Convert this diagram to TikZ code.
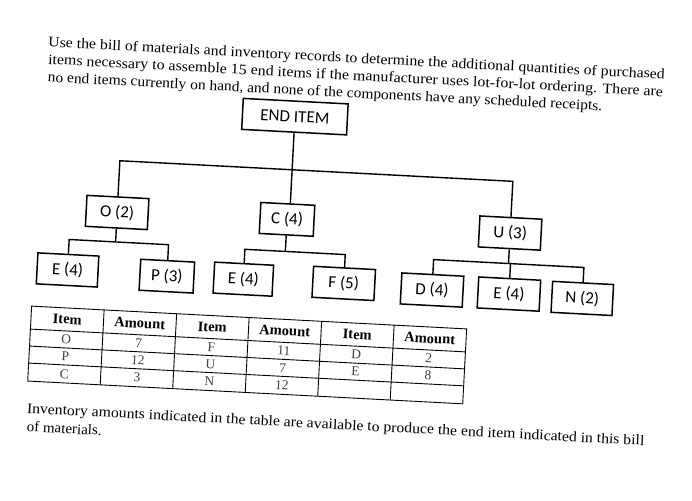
\documentclass[tikz,border=0pt]{standalone}
\usepackage{fontspec}
\setmainfont{Liberation Serif}
\newfontfamily\boxfont{Carlito}
\begin{document}
\begin{tikzpicture}[x=1pt,y=-1pt,
  bom/.style={draw=black, line width=1.5pt, minimum height=31pt, inner sep=0pt,
    font=\boxfont\fontsize{17}{17}\selectfont, transform shape},
  link/.style={line width=1.4pt},
  gridline/.style={line width=0.9pt},
  para/.style={anchor=base west, inner sep=0pt, transform shape,
    font=\fontsize{14.5}{14.5}\selectfont},
  hd/.style={font=\bfseries\fontsize{14.5}{14.5}\selectfont, inner sep=0pt, transform shape},
  cell/.style={font=\fontsize{13.5}{13.5}\selectfont, text=black!75, inner sep=0pt, transform shape}]
\useasboundingbox (0,0) rectangle (692,500);
\begin{scope}[rotate around={-3:(346,250)}]
  % paragraph
  \node[para] (l1) at (37.8,62.6) {\resizebox{617pt}{\height}{Use the bill of materials and inventory records to determine the additional quantities of purchased}};
  \node[para] (l2) at (38.5,80) {\resizebox{615.5pt}{\height}{items necessary to assemble 15 end items if the manufacturer uses lot-for-lot ordering. There are}};
  \node[para] (l3) at (39,97.5) {\resizebox{555pt}{\height}{no end items currently on hand, and none of the components have any scheduled receipts.}};
  % tree nodes
  \node[bom, minimum width=105pt] (end) at (288,119.5) {END ITEM};
  \node[bom, minimum width=62pt] (o) at (115.5,224.5) {O (2)};
  \node[bom, minimum width=54pt] (c) at (285.5,222.5) {C (4)};
  \node[bom, minimum width=62pt] (u) at (509,224.5) {U (3)};
  \node[bom, minimum width=61pt] (e1) at (69,284.5) {E (4)};
  \node[bom, minimum width=54pt] (p) at (168.5,285.5) {P (3)};
  \node[bom, minimum width=59pt] (e2) at (245,284.5) {E (4)};
  \node[bom, minimum width=62pt] (f) at (345.5,283.5) {F (5)};
  \node[bom, minimum width=62pt] (d) at (434,285.5) {D (4)};
  \node[bom, minimum width=62pt] (e3) at (511,285.5) {E (4)};
  \node[bom, minimum width=61pt] (n) at (584.5,286) {N (2)};
  \coordinate (bus) at (0,172.7);
  \coordinate (obus) at (0,254);
  \coordinate (cbus) at (0,254.6);
  \coordinate (ubus) at (0,255);
  % connectors
  \draw[link] (end.south) -- (end.south |- c.north);
  \draw[link] (o.north) -- (o.north |- bus) -- (u.north |- bus) -- (u.north);
  \draw[link] (o.south) -- (o.south |- obus);
  \draw[link] (e1.north) -- (e1.north |- obus) -- (p.north |- obus) -- (p.north);
  \draw[link] (c.south) -- (c.south |- cbus);
  \draw[link] (e2.north) -- (e2.north |- cbus) -- (f.north |- cbus) -- (f.north);
  \draw[link] (u.south) -- (u.south |- ubus);
  \draw[link] (d.north) -- (d.north |- ubus) -- (n.north |- ubus) -- (n.north);
  \draw[link] (e3.north) -- (e3.north |- ubus);
  % table
  \draw[gridline] (35,322.5) rectangle (470.6,397.5);
  \foreach \yy in {345.5,362.5,379.5} \draw[gridline] (35,\yy) -- (470.6,\yy);
  \foreach \xx in {107.6,180.2,252.8,325.4,398} \draw[gridline] (\xx,322.5) -- (\xx,397.5);
  \node[hd] (h1) at (71.3,334) {Item};
  \node[hd] (h2) at (143.9,334) {Amount};
  \node[hd] (h3) at (216.5,334) {Item};
  \node[hd] (h4) at (289.1,334) {Amount};
  \node[hd] (h5) at (361.7,334) {Item};
  \node[hd] (h6) at (434.3,334) {Amount};
  \node[cell] (a1) at (71.3,354) {O};
  \node[cell] (a2) at (143.9,354) {7};
  \node[cell] (a3) at (216.5,354) {F};
  \node[cell] (a4) at (289.1,354) {11};
  \node[cell] (a5) at (361.7,354) {D};
  \node[cell] (a6) at (434.3,354) {2};
  \node[cell] (b1) at (71.3,371) {P};
  \node[cell] (b2) at (143.9,371) {12};
  \node[cell] (b3) at (216.5,371) {U};
  \node[cell] (b4) at (289.1,371) {7};
  \node[cell] (b5) at (361.7,371) {E};
  \node[cell] (b6) at (434.3,371) {8};
  \node[cell] (c1) at (71.3,388.5) {C};
  \node[cell] (c2) at (143.9,388.5) {3};
  \node[cell] (c3) at (216.5,388.5) {N};
  \node[cell] (c4) at (289.1,388.5) {12};
  % closing text
  \node[para] (m1) at (35.6,429.5) {\resizebox{618pt}{\height}{Inventory amounts indicated in the table are available to produce the end item indicated in this bill}};
  \node[para] (m2) at (36.3,448) {\resizebox{75pt}{\height}{of materials.}};
\end{scope}
\end{tikzpicture}
\end{document}
